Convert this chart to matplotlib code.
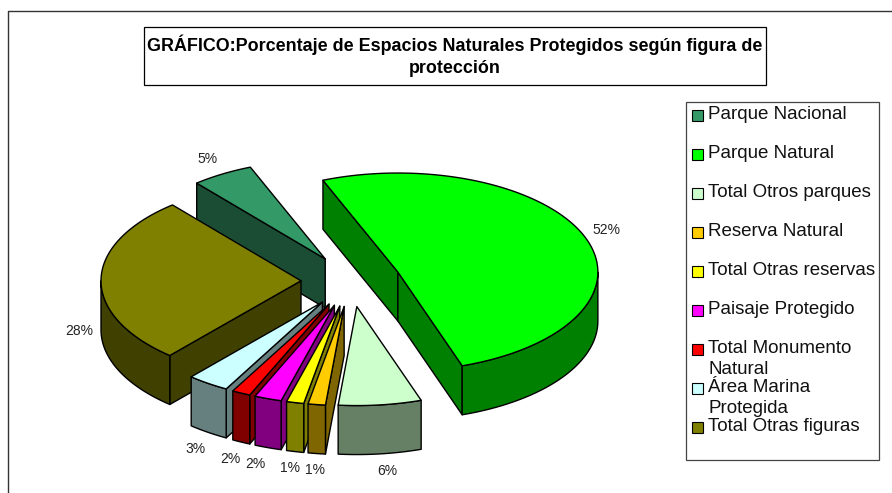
import numpy as np
import matplotlib
matplotlib.use("Agg")
import matplotlib.pyplot as plt
from matplotlib.patches import Polygon, Rectangle

plt.rcParams['font.family'] = ['Liberation Sans', 'DejaVu Sans']

categories = ["Parque Nacional", "Parque Natural", "Total Otros parques",
              "Reserva Natural", "Total Otras reservas", "Paisaje Protegido",
              "Total Monumento\nNatural", "Área Marina\nProtegida",
              "Total Otras figuras"]
# parte de cada porcion tal como se ve dibujada
values = [5.0, 50.9, 6.7, 1.4, 1.4, 2.2, 1.5, 3.4, 27.5]
# porcentajes impresos en el grafico
pct_labels = ["5%", "52%", "6%", "1%", "1%", "2%", "2%", "3%", "28%"]
top_colors = ["#339966", "#00FF00", "#CCFFCC", "#FFCC00", "#FFFF00",
              "#FF00FF", "#FF0000", "#CCFFFF", "#808000"]
side_colors = ["#1A4D33", "#008000", "#668066", "#806600", "#808000",
               "#800080", "#800000", "#668080", "#404000"]

# posicion de las etiquetas de porcentaje (px)
label_xy = [(207, 159), (606, 230), (387, 471), (315, 470), (290, 468),
            (255, 464), (230, 459), (195, 449), (79, 331)]
# posicion vertical del texto de la leyenda (px)
legend_y = [115, 154, 193, 232, 271, 310, 349, 388, 427]

# geometria del pastel 3D
cx, cy = 351, 281
rx, ry = 200, 99
depth = 49
pull_x, pull_y = 0.25, 0.26
start_angle = 130

fig = plt.figure(figsize=(8.92, 4.93), dpi=100)
ax = fig.add_axes([0, 0, 1, 1])
ax.set_xlim(0, 892)
ax.set_ylim(493, 0)
ax.axis("off")

LW = 1.0


def arc(x0, y0, t1, t2):
    t = np.radians(np.linspace(t1, t2, max(int(abs(t2 - t1)), 2) + 1))
    return np.column_stack([x0 + rx * np.cos(t), y0 - ry * np.sin(t)])


def face(pts, color, z):
    ax.add_patch(Polygon(pts, closed=True, facecolor=color, edgecolor="black",
                         linewidth=LW, joinstyle="round", zorder=z))


# calcular cada porcion a partir de los valores
angles = start_angle - np.cumsum([0] + values) / sum(values) * 360
slices = []
for i in range(len(values)):
    t1, t2 = angles[i], angles[i + 1]
    mid = np.radians((t1 + t2) / 2)
    x0 = cx + pull_x * rx * np.cos(mid)
    y0 = cy - pull_y * ry * np.sin(mid)
    slices.append((y0, x0, t1, t2, i))

# de atras hacia delante
z = 2
for y0, x0, t1, t2, i in sorted(slices):
    top = arc(x0, y0, t1, t2)
    apex = np.array([[x0, y0]])
    down = np.array([0, depth])
    # caras radiales
    for t, visible in ((t1, np.cos(np.radians(t1)) < 0), (t2, np.cos(np.radians(t2)) > 0)):
        if visible:
            p = arc(x0, y0, t, t)[:1]
            face(np.vstack([apex, p, p + down, apex + down]), side_colors[i], z)
    # pared exterior (solo la parte delantera)
    a, b = max(t2, -180), min(t1, 0)
    if b > a:
        wall = arc(x0, y0, b, a)
        face(np.vstack([wall, wall[::-1] + down]), side_colors[i], z)
    # cara superior
    face(np.vstack([apex, top]), top_colors[i], z + 0.5)
    z += 1

for txt, (lx, ly) in zip(pct_labels, label_xy):
    ax.text(lx, ly, txt, fontsize=10, ha="center", va="center",
            color="#222222", zorder=50)

# marco exterior abierto abajo y a la derecha
ax.plot([8, 8, 892], [493, 10.5, 10.5], color="#333333", lw=1.0, zorder=1)

# titulo
ax.add_patch(Rectangle((144, 27), 622, 58, facecolor="white", edgecolor="black",
                       lw=0.9, zorder=60))
ax.text(455, 56, "GRÁFICO:Porcentaje de Espacios Naturales Protegidos según figura de\nprotección",
        fontsize=12.9, fontweight="bold", ha="center", va="center", linespacing=1.37,
        color="black", zorder=61)

# leyenda
ax.add_patch(Rectangle((686, 102), 193, 358, facecolor="white", edgecolor="#444444",
                       lw=0.9, zorder=60))
for name, color, ly in zip(categories, top_colors, legend_y):
    ax.add_patch(Rectangle((692, ly - 5.5), 11, 11, facecolor=color, edgecolor="black",
                           lw=0.8, zorder=61))
    for j, line in enumerate(name.split("\n")):
        ax.text(708, ly + 21 * j - 0.5, line, fontsize=13.5, ha="left", va="center",
                color="#111111", zorder=61)

fig.savefig("out.png", dpi=100)
